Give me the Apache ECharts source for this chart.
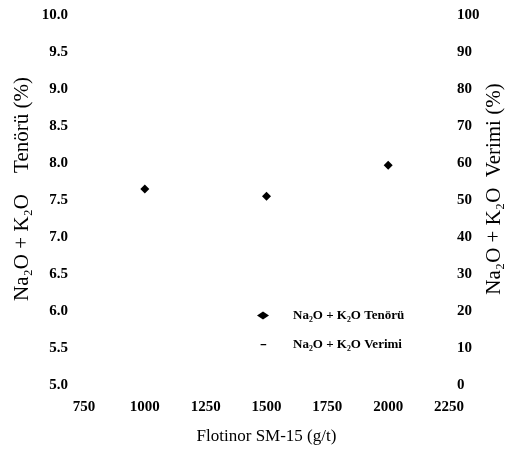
<!DOCTYPE html>
<html>
<head>
<meta charset="utf-8">
<script src="https://cdn.jsdelivr.net/npm/echarts@6/dist/echarts.min.js"></script>
<style>
  html, body { margin: 0; padding: 0; background: #fff; }
  #chart { width: 513px; height: 452px; }
</style>
</head>
<body>
<div id="chart"></div>
<script>
// values
const dosage = [1000, 1500, 2000]
const tenoru = [7.65, 7.55, 7.97]
const verimi = [] // no marks survive in the scan
const leftTicks = [5.0, 10.0, 0.5]
const rightTicks = [0, 100, 10]
const xTicks = [750, 2250, 250]

const font = "Liberation Serif"
const chart = echarts.init(document.getElementById("chart"))

// short dash, padded with invisible points so it stays small inside the legend box
const dashIcon = "path://M0,0 L0,0.01 Z M2,4.3 L9,4.3 L9,5.9 L2,5.9 Z M10,10 L10,10.01 Z"

const option = {
  backgroundColor: "#fff",
  animation: false,
  grid: { left: 84, right: 64, top: 15, bottom: 67, outerBoundsMode: "none" },
  legend: {
    orient: "vertical",
    left: 252,
    top: 304,
    itemWidth: 12,
    itemHeight: 8,
    itemGap: 16,
    textStyle: { fontFamily: font, fontSize: 13, fontWeight: "bold", color: "#000", padding: [0, 0, 0, 19] },
    data: [
      { name: "Na₂O + K₂O Tenörü", icon: "diamond" },
      { name: "Na₂O + K₂O Verimi", icon: dashIcon },
    ],
  },
  xAxis: {
    type: "value",
    min: xTicks[0],
    max: xTicks[1],
    interval: xTicks[2],
    name: "Flotinor SM-15 (g/t)",
    nameLocation: "middle",
    nameGap: 43,
    nameTextStyle: { fontFamily: font, fontSize: 17, color: "#000" },
    axisLine: { show: false },
    axisTick: { show: false },
    splitLine: { show: false },
    axisLabel: {
      fontFamily: font, fontSize: 15, fontWeight: "bold", color: "#000", margin: 15,
      formatter: (v) => String(v),
    },
  },
  yAxis: [
    {
      type: "value",
      min: leftTicks[0],
      max: leftTicks[1],
      interval: leftTicks[2],
      name: "Na₂O + K₂O    Tenörü (%)",
      nameLocation: "middle",
      nameGap: 51,
      nameMoveOverlap: false,
      nameTextStyle: { fontFamily: font, fontSize: 21, color: "#000", padding: [0, 0, 0, 22] },
      axisLine: { show: false },
      axisTick: { show: false },
      splitLine: { show: false },
      axisLabel: {
        fontFamily: font, fontSize: 15, fontWeight: "bold", color: "#000", margin: 16,
        formatter: (v) => v.toFixed(1),
      },
    },
    {
      type: "value",
      position: "right",
      min: rightTicks[0],
      max: rightTicks[1],
      interval: rightTicks[2],
      name: "Na₂O + K₂O  Verimi (%)",
      nameLocation: "middle",
      nameGap: 35,
      nameMoveOverlap: false,
      nameTextStyle: { fontFamily: font, fontSize: 21, color: "#000", padding: [0, 0, 0, 22] },
      axisLine: { show: false },
      axisTick: { show: false },
      splitLine: { show: false },
      axisLabel: { fontFamily: font, fontSize: 15, fontWeight: "bold", color: "#000", margin: 8 },
    },
  ],
  series: [
    {
      name: "Na₂O + K₂O Tenörü",
      type: "scatter",
      yAxisIndex: 0,
      symbol: "diamond",
      symbolSize: 9,
      itemStyle: { color: "#000", opacity: 1 },
      data: dosage.map((d, i) => [d, tenoru[i]]),
    },
    {
      name: "Na₂O + K₂O Verimi",
      type: "scatter",
      yAxisIndex: 1,
      symbol: "rect",
      symbolSize: [6, 2],
      itemStyle: { color: "#000", opacity: 1 },
      data: verimi,
    },
  ],
}

chart.setOption(option)
</script>
</body>
</html>
